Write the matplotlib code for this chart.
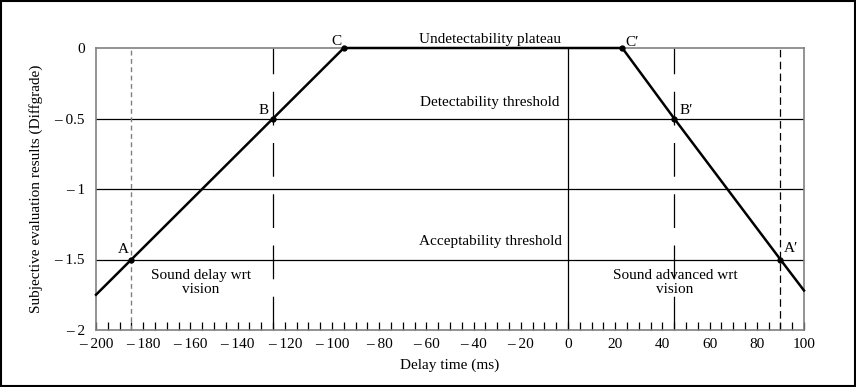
import matplotlib

matplotlib.use("Agg")
import matplotlib.pyplot as plt
from matplotlib.patches import Rectangle
from matplotlib.ticker import MultipleLocator, FixedLocator

# curve vertices (delay ms, diffgrade)
CURVE_X = [-200, -185, -125, -95, 23, 45, 90, 100]
CURVE_Y = [-1.75, -1.5, -0.5, 0, 0, -0.5, -1.5, -1.72]
# labelled points
PT_NAMES = ["A", "B", "C", "C\u2032", "B\u2032", "A\u2032"]
PT_X = [-185, -125, -95, 23, 45, 90]
PT_Y = [-1.5, -0.5, 0, 0, -0.5, -1.5]
THRESH_Y = [-0.5, -1, -1.5]
XTICKS = list(range(-200, 101, 20))
YTICKS = [0, -0.5, -1, -1.5, -2]


def lab(v):
    s = f"{abs(v):g}"
    return s if v >= 0 else "\u2013 " + s


plt.rcParams["font.family"] = ["Liberation Serif", "DejaVu Serif"]
GRAY = "#808080"

fig = plt.figure(figsize=(8.56, 3.87), dpi=100)
ax = fig.add_axes([96 / 856, 1 - 330 / 387, 708 / 856, 282 / 387])
ax.set_xlim(-200, 100)
ax.set_ylim(-2, 0)

for y in THRESH_Y:
    ax.axhline(y, color="black", lw=0.9)
ax.axvline(0, color="black", lw=0.9)
ax.axvline(PT_X[0], color=GRAY, lw=1.0, dashes=(3.5, 2.5))
ax.axvline(PT_X[1], color="black", lw=0.9, dashes=(27, 14))
ax.axvline(PT_X[4], color="black", lw=0.9, dashes=(27, 14))
ax.axvline(PT_X[5], color="black", lw=0.9, dashes=(6, 3.5))

ax.plot(CURVE_X, CURVE_Y, color="black", lw=1.8, clip_on=False, zorder=5)
ax.plot(PT_X, PT_Y, "o", color="black", ms=3.5, clip_on=False, zorder=6)

offsets = [(-6, 7), (-7, 6), (-5, 5), (7, 4), (9, 6), (8, 8)]
for n, x, y, off in zip(PT_NAMES, PT_X, PT_Y, offsets):
    ax.annotate(n, (x, y), xytext=off, textcoords="offset points",
                ha="center", va="center", fontsize=11, zorder=7)

ax.text(-33, 0.015, "Undetectability plateau", ha="center", va="bottom", fontsize=11)
ax.text(-33, -0.385, "Detectability threshold", ha="center", va="center", fontsize=11)
ax.text(-33, -1.375, "Acceptability threshold", ha="center", va="center", fontsize=11)
ax.text(-155.5, -1.665, "Sound delay wrt\nvision", ha="center", va="center",
        fontsize=11, linespacing=1.1)
ax.text(45.3, -1.665, "Sound advanced wrt\nvision", ha="center", va="center",
        fontsize=11, linespacing=1.1)

ax.xaxis.set_major_locator(FixedLocator(XTICKS))
ax.set_xticklabels([lab(v) for v in XTICKS], fontsize=11)
ax.xaxis.set_minor_locator(MultipleLocator(5))
ax.tick_params(axis="x", which="both", direction="in", length=6, color="black",
               width=0.9, pad=6)
ax.yaxis.set_major_locator(FixedLocator(YTICKS))
ax.set_yticklabels([lab(v) for v in YTICKS], fontsize=11)
ax.tick_params(axis="y", length=0, pad=8)

for side in ax.spines.values():
    side.set_color(GRAY)
    side.set_linewidth(1.2)

ax.set_xlabel("Delay time (ms)", fontsize=11, labelpad=5)
ax.set_ylabel("Subjective evaluation results (Diffgrade)", fontsize=11, labelpad=8)

fig.patches.append(Rectangle((0.0015, 0.003), 0.997, 0.994, transform=fig.transFigure,
                             fill=False, edgecolor="black", lw=1.5))

fig.savefig("out.png", dpi=100)
